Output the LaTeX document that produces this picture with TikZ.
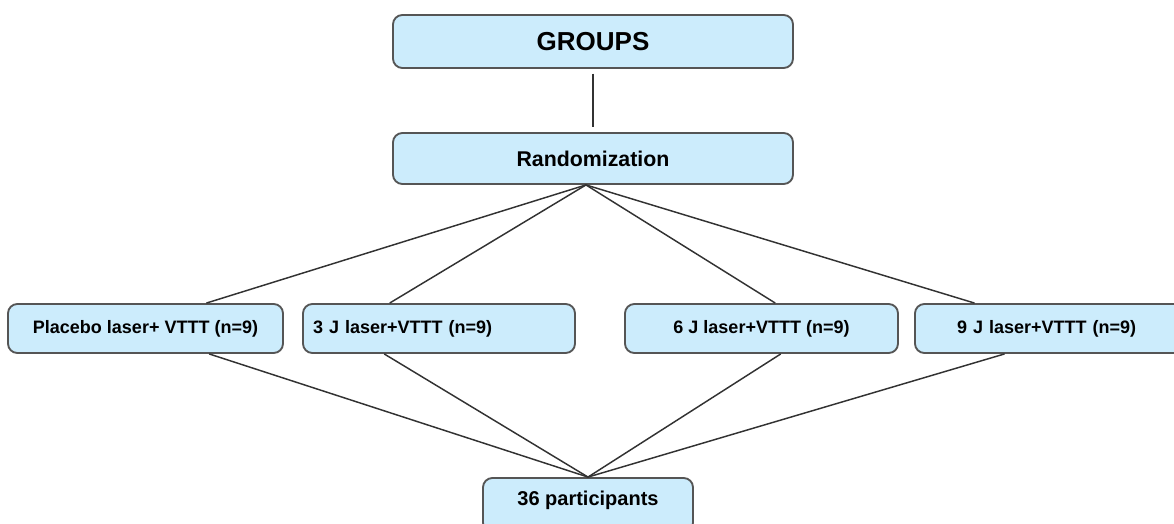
\documentclass[tikz,border=0pt]{standalone}
\usepackage{fontspec}
\setmainfont{Liberation Sans}
\usetikzlibrary{calc}
\definecolor{boxfill}{RGB}{204,236,252}
\definecolor{boxline}{RGB}{85,85,85}
\definecolor{linkline}{RGB}{50,50,50}
\begin{document}
\begin{tikzpicture}[x=0.75pt, y=-0.75pt,
		box/.style={draw=boxline, fill=boxfill, line width=1.4pt, rounded corners=7pt, inner sep=0pt},
		grp/.style={box, minimum height=36.75pt, font=\bfseries\fontsize{13.5}{16}\selectfont},
		link/.style={draw=linkline, line width=1.1pt}]
			
	\useasboundingbox (0,0) rectangle (1174,524);
	\clip (0,0) rectangle (1174,524);
			
	% top boxes
	\node[box, minimum width=300pt, minimum height=39.75pt, font=\bfseries\fontsize{19.5}{22}\selectfont] (groups) at (593,41.5) {GROUPS};
	\node[box, minimum width=300pt, minimum height=38.25pt, font=\bfseries\fontsize{16}{19}\selectfont] (rand) at (593,158.5) {Randomization};
	\draw[link, shorten <=3.5pt, shorten >=3.5pt] (groups) -- (rand);
			
	% the four groups
	\node[grp, minimum width=206.25pt] (plac) at (145.5,328.5) {Placebo laser+ VTTT (n=9)};
	\node[grp, text width=189pt, inner xsep=7.5pt, align=left] (three) at (439,328.5) {3 J laser+VTTT (n=9)};
	\node[grp, minimum width=204.75pt] (six) at (761.5,328.5) {6 J laser+VTTT (n=9)};
	\node[grp, text width=154.5pt, inner xsep=31.5pt, align=left] (nine) at (1060,328.5) {9 J laser+VTTT (n=9)};
			
	% box runs past the lower edge
	\node[box, minimum width=157.5pt, minimum height=40.5pt, text height=12pt, text depth=12pt, font=\bfseries\fontsize{15}{18}\selectfont] (part) at (588,505) {36 participants};
			
	\coordinate (apex) at ($(rand.south west)!0.4825!(rand.south east)$);
	\foreach \g/\t/\b in {plac/0.72/0.73, three/0.32/0.30, six/0.55/0.57, nine/0.207/0.31} {
		\draw[link] (apex) -- ($(\g.north west)!\t!(\g.north east)$);
		\draw[link] ($(\g.south west)!\b!(\g.south east)$) -- (part.north);
	}
			
\end{tikzpicture}
\end{document}
